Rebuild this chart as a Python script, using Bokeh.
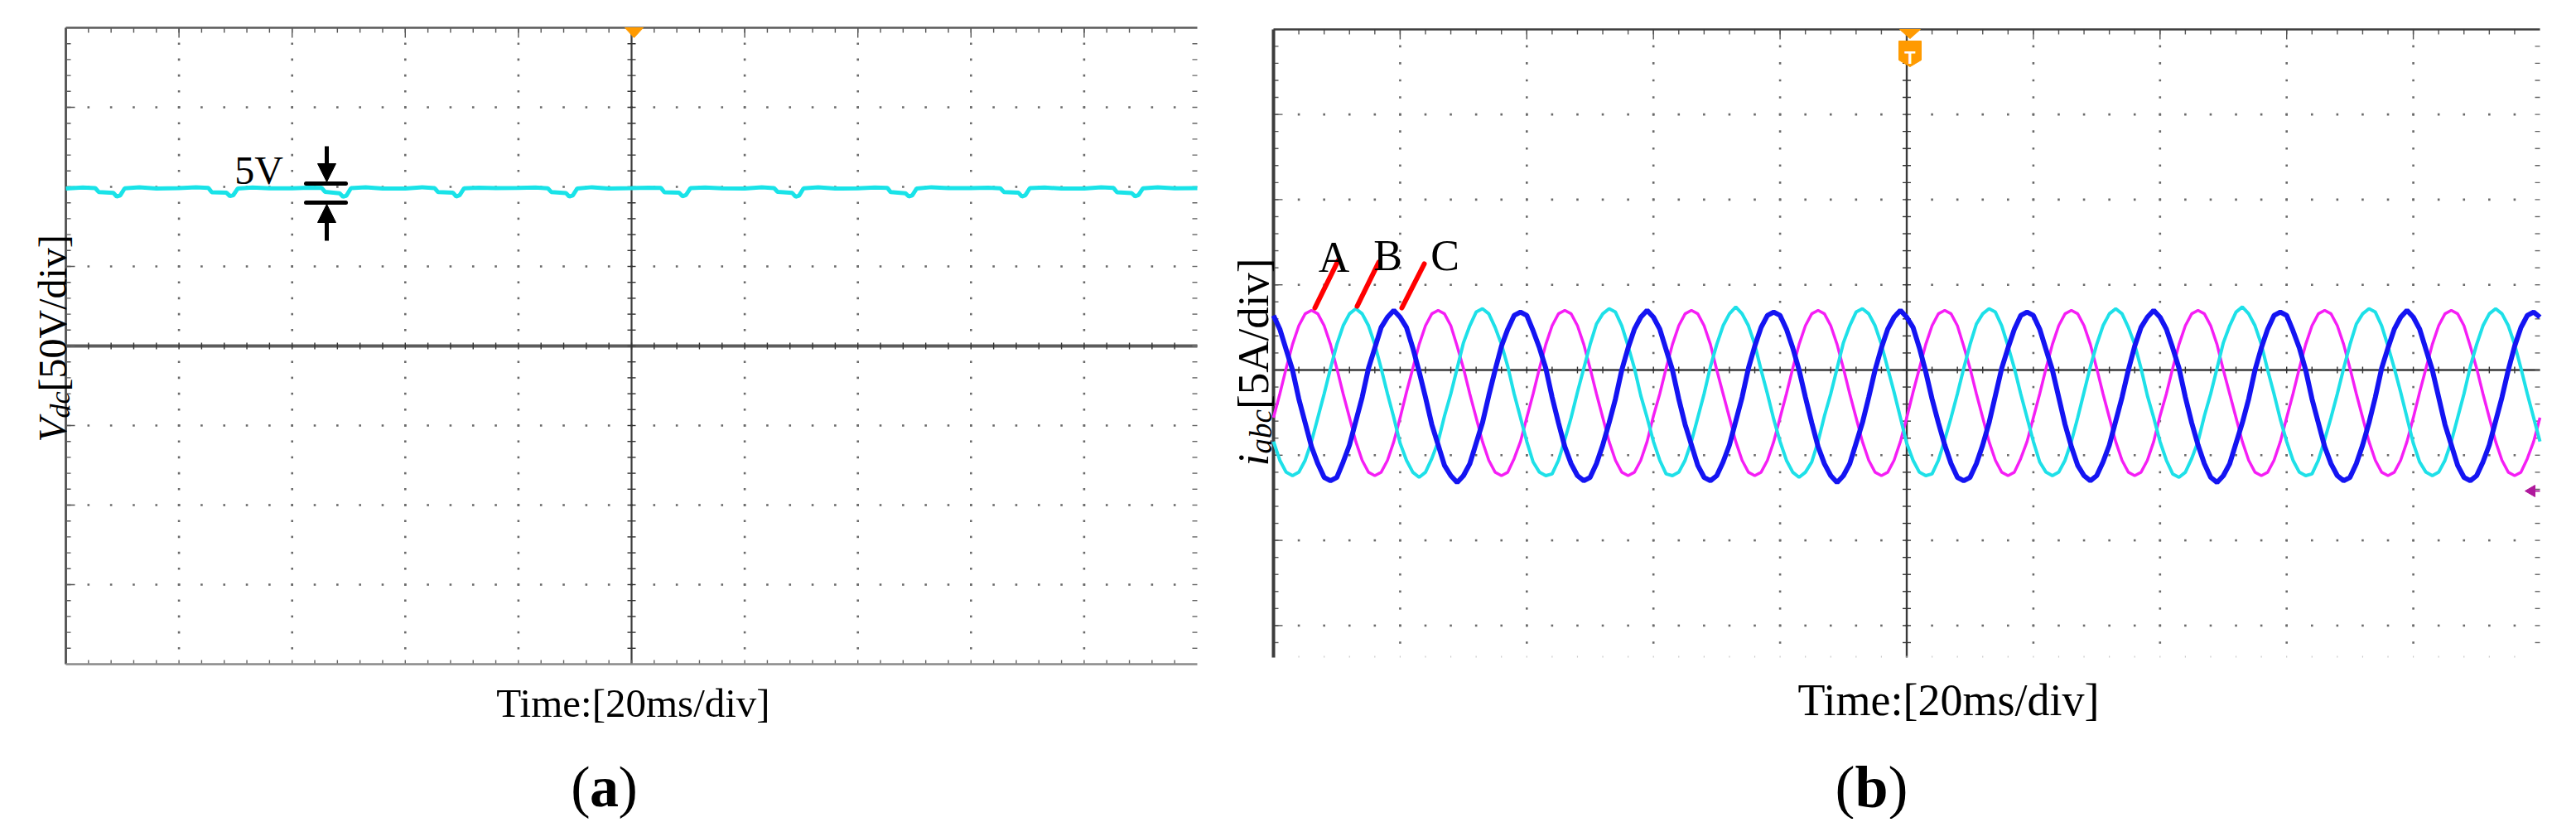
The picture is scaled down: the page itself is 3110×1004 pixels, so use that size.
import numpy as np
from bokeh.plotting import figure
from bokeh.layouts import row
from bokeh.models import Range1d, Label, Arrow, NormalHead
from bokeh.embed import file_html
from bokeh.resources import INLINE

FONT = "Liberation Serif"

# ---------------- data ----------------
# (a) DC-link voltage, displayed level in V (50 V/div), time in ms (20 ms/div, 0 = trigger)
vdc_t = [-100, -97, -94.8, -94.2, -91.6, -91.0, -90.4, -89.6, -87, -84,
         -80, -77, -74.8, -74.2, -71.6, -71.0, -70.4, -69.6, -67, -64,
         -60, -57, -54.8, -54.2, -51.6, -51.0, -50.4, -49.6, -47, -44,
         -40, -37, -34.8, -34.2, -31.6, -31.0, -30.4, -29.6, -27, -24,
         -20, -17, -14.8, -14.2, -11.6, -11.0, -10.4, -9.6, -7, -4,
         0, 3, 5.2, 5.8, 8.4, 9.0, 9.6, 10.4, 13, 16,
         20, 23, 25.2, 25.8, 28.4, 29.0, 29.6, 30.4, 33, 36,
         40, 43, 45.2, 45.8, 48.4, 49.0, 49.6, 50.4, 53, 56,
         60, 63, 65.2, 65.8, 68.4, 69.0, 69.6, 70.4, 73, 76,
         80, 83, 85.2, 85.8, 88.4, 89.0, 89.6, 90.4, 93, 96,
         100]
vdc_v = [99.0, 99.6, 99.2, 96.8, 96.2, 93.9, 94.6, 99.1, 99.8, 99.0,
         99.2, 99.7, 99.3, 96.6, 96.3, 94.2, 94.8, 99.0, 99.6, 99.1,
         99.1, 99.5, 99.4, 96.9, 96.0, 93.8, 94.5, 99.2, 99.7, 98.9,
         99.0, 99.8, 99.2, 96.7, 96.4, 94.0, 94.7, 99.1, 99.5, 99.2,
         99.3, 99.6, 99.1, 96.8, 96.1, 93.9, 94.6, 99.0, 99.8, 99.0,
         99.2, 99.5, 99.3, 96.6, 96.3, 94.1, 94.8, 99.2, 99.6, 99.1,
         99.0, 99.7, 99.2, 96.9, 96.2, 93.8, 94.5, 99.1, 99.7, 98.9,
         99.1, 99.6, 99.4, 96.7, 96.0, 94.0, 94.6, 99.0, 99.8, 99.2,
         99.2, 99.5, 99.1, 96.8, 96.3, 93.9, 94.7, 99.2, 99.6, 99.0,
         99.0, 99.7, 99.3, 96.6, 96.1, 94.1, 94.8, 99.1, 99.7, 99.1,
         99.2]

# (b) phase currents in A (5 A/div), one sample per ms
i_t = list(range(-100, 101))
i_a = [-2.8, -1.4, 0.1, 1.5, 2.6, 3.3, 3.5, 3.3, 2.6, 1.5, 0.1, -1.4, -2.8, -4.2, -5.3, -6.0, -6.2, -6.0, -5.3, -4.2,
       -2.8, -1.3, 0.1, 1.5, 2.6, 3.3, 3.5, 3.3, 2.6, 1.4, 0.1, -1.4, -2.8, -4.2, -5.3, -6.0, -6.2, -6.0, -5.2, -4.2,
       -2.8, -1.4, 0.1, 1.5, 2.6, 3.3, 3.5, 3.3, 2.6, 1.5, 0.1, -1.4, -2.8, -4.2, -5.3, -6.0, -6.2, -6.0, -5.3, -4.2,
       -2.7, -1.4, 0.1, 1.5, 2.6, 3.3, 3.5, 3.3, 2.6, 1.5, 0.0, -1.4, -2.8, -4.2, -5.3, -6.0, -6.2, -6.0, -5.3, -4.2,
       -2.8, -1.4, 0.1, 1.5, 2.6, 3.3, 3.5, 3.3, 2.6, 1.5, 0.1, -1.4, -2.8, -4.2, -5.3, -6.0, -6.2, -6.0, -5.3, -4.2,
       -2.8, -1.3, 0.1, 1.5, 2.6, 3.3, 3.5, 3.3, 2.6, 1.4, 0.1, -1.4, -2.8, -4.2, -5.3, -6.0, -6.2, -6.0, -5.2, -4.2,
       -2.8, -1.4, 0.1, 1.5, 2.6, 3.3, 3.5, 3.3, 2.6, 1.5, 0.1, -1.4, -2.8, -4.2, -5.3, -6.0, -6.2, -6.0, -5.3, -4.2,
       -2.7, -1.4, 0.1, 1.5, 2.6, 3.3, 3.5, 3.3, 2.6, 1.5, 0.0, -1.4, -2.8, -4.2, -5.3, -6.0, -6.2, -6.0, -5.3, -4.2,
       -2.8, -1.4, 0.1, 1.5, 2.6, 3.3, 3.5, 3.3, 2.6, 1.5, 0.1, -1.4, -2.8, -4.2, -5.3, -6.0, -6.2, -6.0, -5.3, -4.2,
       -2.8, -1.3, 0.1, 1.5, 2.6, 3.3, 3.5, 3.3, 2.6, 1.4, 0.1, -1.4, -2.8, -4.2, -5.3, -6.0, -6.2, -6.0, -5.2, -4.2,
       -2.8]
i_b = [-4.2, -5.3, -6.0, -6.2, -6.0, -5.3, -4.2, -2.8, -1.4, 0.1, 1.5, 2.6, 3.3, 3.6, 3.3, 2.6, 1.5, 0.1, -1.4, -2.8,
       -4.3, -5.3, -6.0, -6.3, -6.0, -5.2, -4.2, -2.7, -1.4, 0.1, 1.6, 2.6, 3.4, 3.6, 3.3, 2.5, 1.5, 0.2, -1.4, -2.8,
       -4.2, -5.4, -6.0, -6.2, -6.1, -5.3, -4.1, -2.8, -1.3, 0.1, 1.5, 2.7, 3.3, 3.6, 3.4, 2.6, 1.4, 0.1, -1.5, -2.8,
       -4.2, -5.3, -6.1, -6.2, -6.0, -5.3, -4.2, -2.8, -1.4, 0.2, 1.5, 2.6, 3.3, 3.7, 3.3, 2.6, 1.5, 0.0, -1.4, -2.9,
       -4.2, -5.3, -6.0, -6.3, -6.0, -5.4, -4.2, -2.7, -1.4, 0.1, 1.6, 2.6, 3.4, 3.6, 3.3, 2.6, 1.5, 0.1, -1.3, -2.8,
       -4.3, -5.3, -6.0, -6.2, -6.1, -5.3, -4.1, -2.8, -1.4, 0.1, 1.5, 2.7, 3.3, 3.6, 3.4, 2.6, 1.4, 0.1, -1.4, -2.8,
       -4.2, -5.4, -6.0, -6.2, -6.0, -5.3, -4.2, -2.8, -1.3, 0.2, 1.5, 2.6, 3.3, 3.6, 3.3, 2.5, 1.5, 0.1, -1.5, -2.8,
       -4.2, -5.3, -6.1, -6.3, -6.0, -5.2, -4.2, -2.7, -1.4, 0.1, 1.6, 2.6, 3.4, 3.7, 3.3, 2.6, 1.5, 0.0, -1.4, -2.9,
       -4.2, -5.3, -6.0, -6.2, -6.1, -5.3, -4.1, -2.8, -1.4, 0.1, 1.5, 2.7, 3.3, 3.6, 3.4, 2.6, 1.4, 0.1, -1.3, -2.8,
       -4.3, -5.4, -6.0, -6.2, -6.0, -5.3, -4.2, -2.8, -1.4, 0.2, 1.5, 2.6, 3.3, 3.6, 3.3, 2.6, 1.5, 0.1, -1.4, -2.8,
       -4.2]
i_c = [3.2, 2.4, 1.2, 0.0, -1.7, -3.1, -4.5, -5.5, -6.3, -6.5, -6.3, -5.4, -4.4, -3.0, -1.6, 0.1, 1.3, 2.5, 3.1, 3.5,
       3.1, 2.5, 1.3, -0.1, -1.6, -3.2, -4.4, -5.6, -6.2, -6.6, -6.2, -5.5, -4.3, -3.1, -1.5, 0.0, 1.4, 2.4, 3.2, 3.4,
       3.2, 2.3, 1.3, 0.1, -1.6, -3.1, -4.5, -5.5, -6.2, -6.5, -6.3, -5.5, -4.4, -3.1, -1.7, 0.0, 1.3, 2.4, 3.1, 3.5,
       3.1, 2.4, 1.2, 0.0, -1.7, -3.2, -4.4, -5.6, -6.3, -6.5, -6.2, -5.4, -4.4, -3.0, -1.6, 0.1, 1.4, 2.5, 3.2, 3.4,
       3.2, 2.4, 1.3, 0.0, -1.6, -3.1, -4.5, -5.5, -6.2, -6.6, -6.2, -5.5, -4.3, -3.1, -1.6, 0.0, 1.3, 2.4, 3.1, 3.5,
       3.1, 2.5, 1.3, -0.1, -1.7, -3.1, -4.4, -5.5, -6.3, -6.5, -6.3, -5.5, -4.4, -3.1, -1.5, 0.1, 1.3, 2.4, 3.2, 3.4,
       3.2, 2.4, 1.2, 0.0, -1.6, -3.2, -4.5, -5.6, -6.2, -6.5, -6.2, -5.4, -4.4, -3.0, -1.6, 0.0, 1.4, 2.5, 3.1, 3.5,
       3.1, 2.4, 1.3, 0.1, -1.6, -3.1, -4.4, -5.5, -6.3, -6.6, -6.2, -5.5, -4.3, -3.1, -1.7, 0.0, 1.3, 2.4, 3.2, 3.4,
       3.2, 2.3, 1.3, 0.0, -1.7, -3.1, -4.5, -5.5, -6.2, -6.5, -6.3, -5.5, -4.4, -3.1, -1.6, 0.1, 1.3, 2.4, 3.1, 3.5,
       3.1, 2.4, 1.2, 0.0, -1.6, -3.2, -4.4, -5.6, -6.3, -6.5, -6.2, -5.4, -4.4, -3.0, -1.6, 0.0, 1.4, 2.5, 3.2, 3.4,
       3.1]

# screen scales
t_range = (-100, 100)      # 10 div x 20 ms
t_div = 20
va_range = (-200, 200)     # 8 div x 50 V
va_div = 50
ib_div = 5                 # 5 A/div

# ---------------- helpers: reference-pixel -> data (layout/annotations only) ----------------
def AX(px): return -100 + (px - 87) / 1366 * 200
def AY(py): return 200 - (py - 41) / 768 * 400
def BX(px): return -100 + (px - 1545) / 1529 * 200
def BY(py): return (454 - py) / 102.8 * 5

KXA, KYA = 200 / 1366, 400 / 768      # data units per pixel, panel a
KXB, KYB = 200 / 1529, 5 / 102.8      # panel b


def lab(p, x, y, text, size, style="normal", align="center", baseline="alphabetic",
        angle=0.0, color="black", font=FONT):
    p.add_layout(Label(x=x, y=y, text=text, text_font=font, text_font_size=f"{size}px",
                       text_font_style=style, text_align=align, text_baseline=baseline,
                       angle=angle, text_color=color))


def seg(p, x0, y0, x1, y1, color, width, cap="butt"):
    p.segment(x0=x0, y0=y0, x1=x1, y1=y1, line_color=color, line_width=width, line_cap=cap)


def scope_grid(p, kx, ky, x0, x1, xdiv, y0, y1, ydiv, bottom_solid, axis_w, axis_halo):
    nx = int(round((x1 - x0) / xdiv))
    xs_major = [x0 + k * xdiv for k in range(1, nx)]
    xs_minor = [x0 + k * xdiv / 5 for k in range(1, nx * 5)]
    ymaj = [k * ydiv for k in range(-20, 21) if y0 + 1e-6 < k * ydiv < y1 - 1e-6]
    ymin = [k * ydiv / 5 for k in range(-100, 101) if y0 + 1e-6 < k * ydiv / 5 < y1 - 1e-6]
    dx, dy = [], []
    for xv in xs_major:
        if abs(xv) < 1e-9:
            continue
        for yv in ymin:
            dx.append(xv); dy.append(yv)
    for yv in ymaj:
        if abs(yv) < 1e-9:
            continue
        for xv in xs_minor:
            dx.append(xv); dy.append(yv)
    p.scatter(dx, dy, marker="square", size=2.6, fill_color="#6a6a6a", line_color=None)

    # centre axes
    if axis_halo:
        seg(p, [x0], [0], [x1], [0], "#a8a8a8", axis_halo)
    seg(p, [x0], [0], [x1], [0], "#3a3a3a", axis_w)
    seg(p, [0], [y0], [0], [y1], "#3a3a3a", axis_w)
    n, m = len(xs_minor), len(ymin)
    seg(p, xs_minor, [-4 * ky] * n, xs_minor, [4 * ky] * n, "#333333", 1.4)
    seg(p, [-5 * kx] * m, ymin, [5 * kx] * m, ymin, "#333333", 1.4)

    # inward border ticks
    seg(p, [x0] * m, ymin, [x0 + 6 * kx] * m, ymin, "#555555", 1.4)
    seg(p, [x0] * len(ymaj), ymaj, [x0 + 11 * kx] * len(ymaj), ymaj, "#555555", 1.4)
    seg(p, [x1 - 6 * kx] * m, ymin, [x1] * m, ymin, "#666666", 1.4)
    seg(p, xs_minor, [y1] * n, xs_minor, [y1 - 6 * ky] * n, "#555555", 1.4)
    seg(p, xs_major, [y1] * len(xs_major), xs_major, [y1 - 12 * ky] * len(xs_major), "#555555", 1.4)
    if bottom_solid:
        seg(p, xs_minor, [y0] * n, xs_minor, [y0 + 5 * ky] * n, "#666666", 1.4)
    else:
        seg(p, xs_minor, [y0] * n, xs_minor, [y0 + 2 * ky] * n, "#c8c8c8", 1.2)


def make_fig(width, xr, yr):
    p = figure(width=width, height=988, x_range=Range1d(*xr), y_range=Range1d(*yr),
               x_axis_type=None, y_axis_type=None, toolbar_location=None, output_backend="svg",
               min_border_left=0, min_border_right=0, min_border_top=0, min_border_bottom=0)
    p.outline_line_color = None
    p.background_fill_color = "white"
    p.border_fill_color = "white"
    return p


# ---------------- panel (a) ----------------
pa = make_fig(1460, (AX(8), AX(1468)), (AY(996), AY(8)))
scope_grid(pa, KXA, KYA, t_range[0], t_range[1], t_div, va_range[0], va_range[1], va_div,
           bottom_solid=True, axis_w=2.2, axis_halo=5)
seg(pa, [t_range[0]], [va_range[0]], [t_range[0]], [va_range[1]], "#5a5a5a", 3)
seg(pa, [t_range[0]], [va_range[1]], [t_range[1]], [va_range[1]], "#5a5a5a", 2.5)
seg(pa, [t_range[0]], [va_range[0]], [t_range[1]], [va_range[0]], "#8a8a8a", 2.5)

pa.line(vdc_t, vdc_v, line_color="#19e3e8", line_width=5)

# trigger marker
pa.patch([AX(762), AX(784), AX(773)], [AY(41), AY(41), AY(53)], fill_color="#ff9a00", line_color="#ff9a00")

# 5V ripple annotation
seg(pa, [AX(377), AX(377)], [AY(229), AY(252)], [AX(425), AX(425)], [AY(229), AY(252)], "black", 5, "round")
pa.add_layout(Arrow(end=NormalHead(size=22, fill_color="black", line_color="black"),
                    x_start=AX(402), y_start=AY(184), x_end=AX(402), y_end=AY(227),
                    line_color="black", line_width=5))
pa.add_layout(Arrow(end=NormalHead(size=22, fill_color="black", line_color="black"),
                    x_start=AX(402), y_start=AY(298), x_end=AX(402), y_end=AY(254),
                    line_color="black", line_width=5))
lab(pa, AX(320), AY(213), "5V", 48)

# y label  V_dc[50V/div]
lab(pa, AX(71), AY(541), "V", 48, style="italic", align="left", angle=np.pi / 2)
lab(pa, AX(80), AY(512), "dc", 34, style="italic", align="left", angle=np.pi / 2)
lab(pa, AX(71), AY(480), "[50V/div]", 48, align="left", angle=np.pi / 2)
# x label and caption
lab(pa, AX(772), AY(856), "Time:[20ms/div]", 49)
lab(pa, AX(720), AY(957), "(", 70, align="right")
lab(pa, AX(737), AY(957), "a", 70, style="bold", align="center")
lab(pa, AX(754), AY(957), ")", 70, align="left")

# ---------------- panel (b) ----------------
ib_lo, ib_hi = BY(801), BY(43)
pb = make_fig(1626, (BX(1468), BX(3094)), (BY(996), BY(8)))
scope_grid(pb, KXB, KYB, t_range[0], t_range[1], t_div, ib_lo, ib_hi, ib_div,
           bottom_solid=False, axis_w=2.4, axis_halo=0)
seg(pb, [t_range[0]], [ib_lo], [t_range[0]], [ib_hi], "#3c3c3c", 4)
seg(pb, [t_range[0]], [ib_hi], [t_range[1]], [ib_hi], "#3c3c3c", 2.5)

pb.line(i_t, i_a, line_color="#f51ef5", line_width=3.5)
pb.line(i_t, i_b, line_color="#1ee0e8", line_width=4)
pb.line(i_t, i_c, line_color="#1414f2", line_width=6)

# trigger marker with T badge
pb.patch([BX(2301), BX(2326), BX(2313.5)], [BY(43), BY(43), BY(54)], fill_color="#ff9a00", line_color="#ff9a00")
pb.patch([BX(2300), BX(2327), BX(2327), BX(2313.5), BX(2300)],
         [BY(57), BY(57), BY(80), BY(88), BY(80)], fill_color="#ff9a00", line_color="#ff9a00")
lab(pb, BX(2313.5), BY(77), "T", 22, style="bold", color="white", font="Liberation Sans")
# channel ground marker
pb.patch([BX(3056), BX(3068), BX(3068)], [BY(600), BY(593), BY(607)], fill_color="#b0189c", line_color="#b0189c")
seg(pb, [BX(3066)], [BY(600)], [BX(3074)], [BY(600)], "#b0189c", 2)

# phase labels
seg(pb, [BX(1623), BX(1672), BX(1727)], [BY(322), BY(324), BY(326)],
    [BX(1595), BX(1646), BX(1700)], [BY(379), BY(377), BY(379)], "#ff0000", 6, "round")
lab(pb, BX(1618), BY(318), "A", 52)
lab(pb, BX(1683), BY(316), "B", 52)
lab(pb, BX(1752), BY(316), "C", 52)

# y label  i_abc[5A/div]
lab(pb, BX(1520), BY(570), "i", 53, style="italic", align="left", angle=np.pi / 2)
lab(pb, BX(1530), BY(555), "abc", 37, style="italic", align="left", angle=np.pi / 2)
lab(pb, BX(1520), BY(501.5), "[5A/div]", 53, align="left", angle=np.pi / 2)
# x label and caption
lab(pb, BX(2360), BY(852), "Time:[20ms/div]", 54)
lab(pb, BX(2247), BY(957), "(", 72, align="right")
lab(pb, BX(2267), BY(957), "b", 72, style="bold", align="center")
lab(pb, BX(2287), BY(957), ")", 72, align="left")

layout = row(pa, pb)
open("out.html", "w").write(file_html(layout, INLINE))
